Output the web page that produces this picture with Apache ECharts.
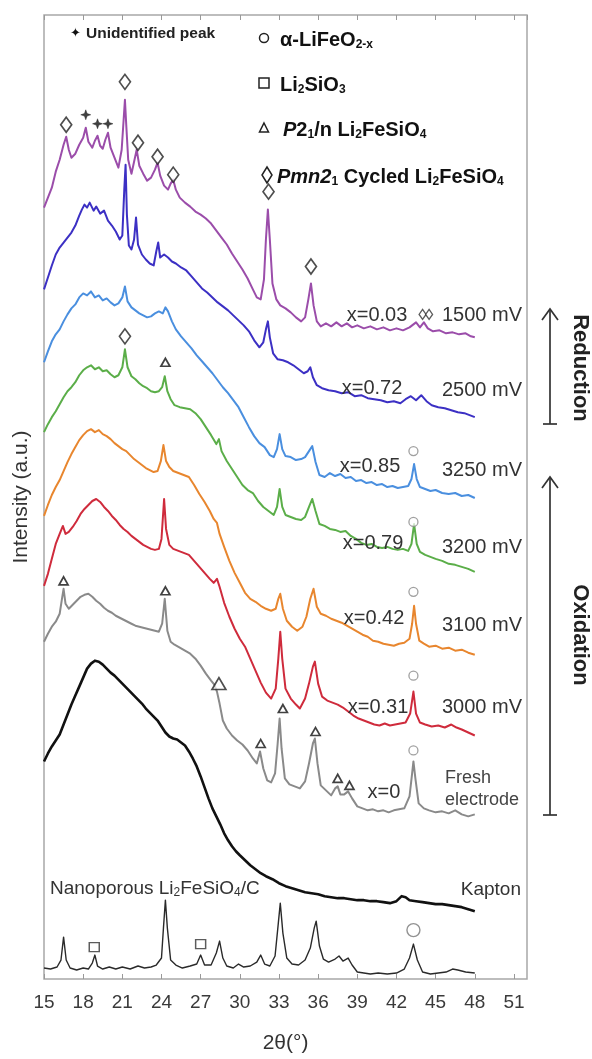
<!DOCTYPE html>
<html><head><meta charset="utf-8">
<script src="https://cdn.jsdelivr.net/npm/echarts@6/dist/echarts.min.js"></script>
<style>html,body{margin:0;padding:0;background:#fff}#c{width:592px;height:1059px}</style>
</head><body><div id="c"></div>
<script>
// 2θ (deg) vs intensity (a.u., stacked with offsets as in the figure)
const p1500 = [[15.0,773],[15.3,783],[15.6,793],[15.9,809],[16.2,821],[16.5,836],[16.7,844],[16.9,831],[17.1,823],[17.4,827],[17.7,836],[18.0,843],[18.2,853],[18.4,839],[18.7,833],[18.9,840],[19.1,845],[19.3,835],[19.5,832],[19.7,841],[19.9,848],[20.1,833],[20.4,823],[20.7,813],[20.95,831],[21.1,861],[21.2,881],[21.3,856],[21.45,821],[21.7,807],[21.9,819],[22.1,831],[22.3,815],[22.6,807],[22.9,800],[23.2,803],[23.5,811],[23.7,818],[23.9,805],[24.2,795],[24.5,791],[24.7,797],[24.9,801],[25.1,791],[25.4,783],[25.8,778],[26.2,774],[26.6,769],[27.0,766],[27.4,762],[27.8,757],[28.2,750],[28.6,743],[29.0,736],[29.4,727],[29.8,719],[30.2,711],[30.6,702],[31.0,691],[31.3,683],[31.6,681],[31.85,701],[32.0,741],[32.15,771],[32.3,741],[32.5,697],[32.8,681],[33.1,675],[33.5,672],[33.9,668],[34.3,663],[34.7,659],[35.0,663],[35.25,681],[35.45,697],[35.65,675],[35.9,659],[36.2,654],[36.6,657],[37.0,654],[37.4,658],[37.8,654],[38.2,657],[38.6,653],[39.0,655],[39.5,652],[40.0,654],[40.5,651],[41.0,653],[41.5,650],[42.0,652],[42.5,650],[43.0,653],[43.5,658],[43.8,653],[44.1,658],[44.4,652],[44.8,649],[45.3,650],[45.8,647],[46.3,648],[46.8,646],[47.3,647],[47.7,644],[48.0,643]];
const p2500 = [[15.0,691],[15.3,703],[15.6,715],[15.9,726],[16.2,733],[16.5,738],[16.8,743],[17.1,748],[17.4,755],[17.7,765],[17.9,771],[18.1,776],[18.3,773],[18.5,778],[18.8,770],[19.0,774],[19.3,767],[19.6,770],[19.9,760],[20.2,755],[20.5,749],[20.8,741],[21.0,745],[21.15,791],[21.25,816],[21.35,766],[21.5,735],[21.7,731],[21.9,741],[22.05,763],[22.2,736],[22.5,726],[22.8,721],[23.1,717],[23.4,715],[23.6,729],[23.75,738],[23.9,723],[24.2,726],[24.5,723],[24.8,719],[25.1,717],[25.5,713],[25.9,710],[26.3,704],[26.7,698],[27.1,692],[27.5,688],[27.9,683],[28.3,678],[28.7,674],[29.1,670],[29.5,665],[29.9,660],[30.3,655],[30.7,649],[31.1,640],[31.5,633],[31.8,638],[32.0,651],[32.15,659],[32.3,643],[32.55,627],[32.9,621],[33.3,620],[33.7,618],[34.1,615],[34.5,611],[34.9,607],[35.2,609],[35.4,613],[35.6,603],[35.9,595],[36.3,592],[36.8,590],[37.3,589],[37.8,587],[38.3,588],[38.8,584],[39.3,585],[39.8,582],[40.3,581],[40.8,580],[41.3,578],[41.8,579],[42.3,577],[42.7,581],[43.1,584],[43.5,580],[43.9,585],[44.3,579],[44.7,575],[45.2,573],[45.7,572],[46.2,570],[46.7,568],[47.2,567],[47.6,565],[48.0,563]];
const p3250 = [[15.0,618],[15.3,629],[15.6,639],[15.9,646],[16.2,651],[16.5,659],[16.8,666],[17.1,672],[17.4,676],[17.7,683],[18.0,687],[18.3,685],[18.6,689],[18.9,683],[19.2,685],[19.5,680],[19.8,682],[20.1,678],[20.4,675],[20.7,677],[21.0,683],[21.2,694],[21.4,679],[21.7,673],[22.0,670],[22.3,667],[22.6,665],[22.9,663],[23.2,664],[23.5,667],[23.8,669],[24.1,667],[24.3,673],[24.5,669],[24.8,659],[25.1,651],[25.5,644],[25.9,638],[26.3,632],[26.7,625],[27.1,619],[27.5,613],[27.9,607],[28.3,600],[28.7,593],[29.1,587],[29.5,580],[29.9,573],[30.3,563],[30.7,553],[31.1,544],[31.5,537],[31.9,533],[32.3,525],[32.6,523],[32.85,531],[33.05,546],[33.25,531],[33.5,524],[33.9,523],[34.3,520],[34.7,521],[35.0,523],[35.3,529],[35.55,534],[35.8,518],[36.1,505],[36.5,503],[36.9,507],[37.3,504],[37.7,506],[38.1,502],[38.5,503],[38.9,499],[39.3,500],[39.7,497],[40.1,498],[40.5,495],[40.9,496],[41.3,493],[41.7,494],[42.1,492],[42.5,493],[42.9,494],[43.15,501],[43.35,516],[43.55,501],[43.8,493],[44.2,491],[44.6,489],[45.0,490],[45.5,487],[46.0,486],[46.5,487],[47.0,484],[47.5,485],[48.0,482]];
const p3200 = [[15.0,548],[15.3,556],[15.6,563],[15.9,569],[16.2,576],[16.5,583],[16.8,589],[17.1,593],[17.4,598],[17.7,605],[18.0,610],[18.3,613],[18.6,615],[18.9,611],[19.2,613],[19.5,609],[19.8,610],[20.1,606],[20.4,603],[20.7,605],[21.0,613],[21.2,631],[21.4,613],[21.7,604],[22.0,601],[22.3,597],[22.6,594],[22.9,592],[23.2,589],[23.5,588],[23.8,589],[24.05,593],[24.25,604],[24.45,589],[24.7,581],[25.0,575],[25.4,573],[25.8,572],[26.2,571],[26.6,567],[27.0,561],[27.4,553],[27.8,545],[28.2,536],[28.4,541],[28.6,529],[29.0,519],[29.4,511],[29.8,503],[30.2,495],[30.6,490],[31.0,487],[31.4,479],[31.8,473],[32.2,469],[32.6,465],[32.85,473],[33.05,491],[33.25,473],[33.5,465],[33.9,463],[34.3,461],[34.7,460],[35.0,463],[35.3,473],[35.55,481],[35.8,469],[36.1,456],[36.5,454],[36.9,451],[37.3,450],[37.7,448],[38.1,449],[38.5,444],[38.9,441],[39.3,437],[39.7,435],[40.1,436],[40.5,433],[40.9,432],[41.3,433],[41.7,431],[42.1,430],[42.5,431],[42.9,429],[43.15,436],[43.35,456],[43.55,436],[43.8,428],[44.2,425],[44.6,423],[45.0,421],[45.5,419],[46.0,416],[46.5,415],[47.0,413],[47.5,411],[48.0,408]];
const p3100 = [[15.0,464],[15.3,475],[15.6,485],[15.9,493],[16.2,500],[16.5,509],[16.8,518],[17.1,526],[17.4,533],[17.7,540],[18.0,545],[18.3,549],[18.6,551],[18.9,548],[19.2,550],[19.5,546],[19.8,544],[20.1,541],[20.4,537],[20.7,534],[21.0,531],[21.3,529],[21.6,525],[21.9,521],[22.2,518],[22.5,515],[22.8,512],[23.1,510],[23.4,508],[23.7,509],[23.95,519],[24.15,535],[24.35,519],[24.6,513],[24.9,509],[25.3,507],[25.7,505],[26.1,503],[26.5,495],[26.9,486],[27.3,478],[27.7,469],[28.0,461],[28.25,457],[28.45,446],[28.8,433],[29.2,419],[29.6,407],[30.0,397],[30.4,387],[30.8,381],[31.2,378],[31.6,374],[32.0,371],[32.4,369],[32.75,371],[32.95,381],[33.1,386],[33.3,371],[33.6,359],[34.0,353],[34.4,349],[34.8,353],[35.1,363],[35.4,381],[35.65,391],[35.9,373],[36.2,366],[36.6,364],[37.0,361],[37.4,359],[37.8,357],[38.2,354],[38.6,351],[39.0,348],[39.4,345],[39.8,343],[40.2,339],[40.6,338],[41.0,336],[41.4,335],[41.8,334],[42.2,336],[42.6,337],[43.0,341],[43.2,356],[43.35,374],[43.5,356],[43.75,339],[44.1,336],[44.5,333],[45.0,334],[45.5,331],[46.0,332],[46.5,329],[47.0,330],[47.5,327],[48.0,325]];
const p3000 = [[15.0,394],[15.3,406],[15.6,421],[15.9,436],[16.2,446],[16.45,454],[16.65,446],[16.9,448],[17.2,453],[17.5,459],[17.8,466],[18.1,471],[18.4,475],[18.7,479],[19.0,481],[19.3,478],[19.6,473],[19.9,469],[20.2,464],[20.5,460],[20.8,455],[21.1,451],[21.4,448],[21.7,444],[22.0,441],[22.3,438],[22.6,435],[22.9,433],[23.2,431],[23.5,430],[23.8,431],[24.0,441],[24.2,481],[24.35,451],[24.6,435],[24.9,431],[25.3,429],[25.7,427],[26.1,425],[26.5,419],[26.9,413],[27.3,407],[27.7,401],[28.0,397],[28.25,401],[28.45,393],[28.8,377],[29.2,363],[29.6,351],[30.0,341],[30.4,333],[30.8,321],[31.2,309],[31.6,297],[32.0,287],[32.4,281],[32.75,291],[32.95,321],[33.1,348],[33.25,321],[33.5,291],[33.9,281],[34.3,275],[34.6,271],[35.0,281],[35.3,296],[35.6,313],[35.75,318],[36.0,296],[36.3,283],[36.7,279],[37.1,277],[37.5,275],[37.9,272],[38.3,268],[38.7,264],[39.1,261],[39.5,259],[39.9,257],[40.3,255],[40.7,254],[41.1,256],[41.5,254],[41.9,255],[42.3,256],[42.7,257],[43.05,266],[43.3,288],[43.5,266],[43.8,257],[44.2,255],[44.7,253],[45.2,254],[45.7,252],[46.2,255],[46.6,252],[47.0,250],[47.5,247],[48.0,244]];
const pFresh = [[15.0,338],[15.3,346],[15.6,353],[15.9,358],[16.2,366],[16.4,383],[16.5,391],[16.65,376],[16.9,371],[17.2,375],[17.5,379],[17.8,383],[18.1,385],[18.4,386],[18.7,383],[19.0,379],[19.3,376],[19.6,372],[19.9,369],[20.2,367],[20.5,364],[20.8,362],[21.1,360],[21.4,358],[21.7,356],[22.0,354],[22.3,353],[22.6,352],[22.9,351],[23.2,350],[23.5,349],[23.8,348],[24.05,356],[24.25,381],[24.45,349],[24.7,338],[25.0,335],[25.4,332],[25.8,329],[26.2,326],[26.6,321],[27.0,314],[27.4,306],[27.8,299],[28.05,295],[28.25,288],[28.45,276],[28.7,259],[29.0,251],[29.4,244],[29.8,239],[30.2,235],[30.6,229],[31.0,221],[31.3,216],[31.55,228],[31.8,211],[32.1,199],[32.4,197],[32.7,206],[32.9,236],[33.05,261],[33.2,231],[33.45,201],[33.8,195],[34.2,193],[34.6,191],[35.0,198],[35.3,216],[35.6,236],[35.75,241],[35.95,216],[36.2,194],[36.6,189],[37.0,184],[37.3,191],[37.5,193],[37.7,185],[38.0,185],[38.3,188],[38.6,181],[39.0,173],[39.4,171],[39.8,169],[40.2,170],[40.6,168],[41.0,169],[41.4,167],[41.8,169],[42.2,170],[42.6,171],[43.0,183],[43.2,206],[43.3,218],[43.45,201],[43.7,176],[44.1,171],[44.5,169],[45.0,167],[45.5,168],[46.0,166],[46.5,169],[47.0,165],[47.5,163],[48.0,165]];
const pKapton = [[15.0,218],[15.3,226],[15.6,233],[15.9,239],[16.2,245],[16.5,255],[16.8,265],[17.1,275],[17.4,284],[17.7,293],[18.0,302],[18.3,311],[18.6,316],[18.9,319],[19.2,318],[19.5,315],[19.8,311],[20.1,307],[20.4,304],[20.7,300],[21.0,296],[21.3,292],[21.6,288],[21.9,284],[22.2,280],[22.5,276],[22.8,271],[23.1,267],[23.4,263],[23.7,259],[24.0,253],[24.3,247],[24.6,243],[24.9,241],[25.2,240],[25.5,237],[25.8,234],[26.1,228],[26.4,221],[26.7,213],[27.0,203],[27.3,192],[27.6,181],[27.9,171],[28.2,163],[28.5,155],[28.8,146],[29.1,139],[29.4,133],[29.7,128],[30.0,124],[30.4,119],[30.8,114],[31.2,110],[31.6,106],[32.0,103],[32.5,100],[33.0,96],[33.5,93],[34.0,91],[34.5,89],[35.0,87],[35.5,86],[36.0,85],[36.5,83],[37.0,82],[37.5,81],[38.0,81],[38.5,80],[39.0,79],[39.5,79],[40.0,78],[40.5,78],[41.0,77],[41.5,76],[42.0,78],[42.4,83],[42.7,82],[43.0,79],[43.5,78],[44.0,77],[44.5,76],[45.0,75],[45.5,75],[46.0,74],[46.5,73],[47.0,72],[47.5,70],[48.0,68]];
const pNano = [[15.0,11],[15.5,10],[16.0,12],[16.3,19],[16.5,42],[16.7,19],[17.0,11],[17.5,9],[18.0,11],[18.4,10],[18.7,16],[18.9,24],[19.1,13],[19.5,10],[20.0,12],[20.5,10],[21.0,12],[21.6,10],[22.2,13],[22.7,11],[23.2,12],[23.6,14],[24.0,21],[24.15,51],[24.3,79],[24.45,51],[24.7,19],[25.1,14],[25.6,11],[26.2,13],[26.7,15],[27.0,24],[27.3,14],[27.8,14],[28.2,26],[28.45,38],[28.7,21],[29.0,13],[29.5,11],[29.9,15],[30.3,12],[30.8,13],[31.3,17],[31.6,24],[31.9,15],[32.3,13],[32.7,23],[32.95,56],[33.1,76],[33.3,46],[33.6,21],[34.0,15],[34.5,14],[35.0,19],[35.4,31],[35.7,51],[35.85,58],[36.1,33],[36.4,20],[36.8,17],[37.3,20],[37.6,23],[37.9,18],[38.3,21],[38.6,14],[39.0,7],[39.5,6],[40.0,5],[40.6,6],[41.3,5],[42.0,6],[42.6,10],[43.0,21],[43.3,35],[43.6,19],[44.0,7],[44.6,5],[45.2,6],[45.8,7],[46.3,10],[46.7,9],[47.3,7],[48.0,6]];

// peak markers [2θ, intensity]
const diamondPts = [[16.7,856],[21.2,899],[22.2,838],[23.7,824],[24.9,806],[32.2,789],[35.45,714],[21.2,644]];
const smallDiamondPts = [[44.0,666],[44.5,666]];
const plusPts = [[18.2,866],[19.1,857],[19.9,857]];
const trianglePts = [[24.3,618],[16.5,399],[24.3,389],[31.6,236],[33.3,271],[35.8,248],[37.5,201],[38.4,194]];
const bigTrianglePts = [[28.4,296]];
const circlePts = [[43.3,529],[43.3,458],[43.3,388],[43.3,304],[43.3,229]];
const bigCirclePts = [[43.3,49]];
const squarePts = [[18.85,32],[27.0,35]];

const xTicks = {min: 15, max: 52, interval: 3};
const traces = [
  {name: 'Nanoporous Li2FeSiO4/C', data: pNano, color: '#2a2a2a', w: 1.4},
  {name: 'Kapton', data: pKapton, color: '#111111', w: 2.6},
  {name: 'Fresh electrode', data: pFresh, color: '#8a8a8a', w: 2.0},
  {name: '3000 mV', data: p3000, color: '#cf2b3c', w: 2.0},
  {name: '3100 mV', data: p3100, color: '#e8862e', w: 2.0},
  {name: '3200 mV', data: p3200, color: '#5bae49', w: 2.0},
  {name: '3250 mV', data: p3250, color: '#4a8fdf', w: 2.0},
  {name: '2500 mV', data: p2500, color: '#3c30c4', w: 2.0},
  {name: '1500 mV', data: p1500, color: '#9b4daa', w: 2.0}
];

const FF = '"Liberation Sans", Arial, sans-serif';
const chart = echarts.init(document.getElementById('c'));

const series = traces.map(t => ({
  type: 'line', name: t.name, data: t.data, showSymbol: false, silent: true,
  lineStyle: {color: t.color, width: t.w, join: 'round'}, z: 2
}));
function marks(data, symbol, size, border, bw, fill) {
  return {type: 'scatter', data: data, symbol: symbol, symbolSize: size, silent: true, z: 5,
    itemStyle: {color: fill || 'rgba(255,255,255,0.9)', borderColor: border, borderWidth: bw}};
}
series.push(marks(diamondPts, 'diamond', [11, 15], '#222', 1.7));
series.push(marks(smallDiamondPts, 'diamond', [7, 10], '#333', 1.3));
series.push(marks(trianglePts, 'triangle', [9, 8], '#111', 1.7));
series.push(marks(bigTrianglePts, 'triangle', [14, 12], '#222', 1.6));
series.push(marks(circlePts, 'circle', 9, '#888', 1.3));
series.push(marks(bigCirclePts, 'circle', 13, '#777', 1.4));
series.push(marks(squarePts, 'rect', [10, 9], '#333', 1.4));
series.push(marks(plusPts, 'path://M5,0 L6.3,3.7 L10,5 L6.3,6.3 L5,10 L3.7,6.3 L0,5 L3.7,3.7 Z', 10, '#111', 0.5, '#111'));

function T(x, y, text, opt) {
  return Object.assign({type: 'text', x: x, y: y, silent: true, z: 10,
    style: Object.assign({text: text, fill: '#333', font: '20px ' + FF, align: 'left', verticalAlign: 'middle'}, opt || {})});
}
function L(x1, y1, x2, y2) {
  return {type: 'line', silent: true, shape: {x1: x1, y1: y1, x2: x2, y2: y2}, style: {stroke: '#333', lineWidth: 1.7}};
}
function PL(pts) {
  return {type: 'polyline', silent: true, shape: {points: pts}, style: {stroke: '#333', lineWidth: 1.7, fill: null}};
}
const boldRich = {
  b: {fontSize: 20, fontWeight: 'bold', fontFamily: FF, fill: '#111', lineHeight: 25, verticalAlign: 'bottom'},
  i: {fontSize: 20, fontWeight: 'bold', fontStyle: 'italic', fontFamily: FF, fill: '#111', lineHeight: 25, verticalAlign: 'bottom'},
  s: {fontSize: 12, fontWeight: 'bold', fontFamily: FF, fill: '#111', lineHeight: 21, verticalAlign: 'bottom'}
};
function RT(x, y, text) {
  return {type: 'text', x: x, y: y, silent: true, z: 10,
    style: {text: text, rich: boldRich, align: 'left', verticalAlign: 'middle', font: 'bold 20px ' + FF, fill: '#111'}};
}

const graphics = [
  // legend block
  T(70, 34, '✦', {font: '13px DejaVu Sans', fill: '#111'}),
  T(86, 34, 'Unidentified peak', {font: 'bold 15.5px ' + FF, fill: '#222'}),
  {type: 'circle', shape: {cx: 264, cy: 38, r: 4.5}, style: {fill: '#fff', stroke: '#222', lineWidth: 1.5}, silent: true},
  RT(280, 38, '{b|α-LiFeO}{s|2-x}'),
  {type: 'rect', shape: {x: 259, y: 78, width: 10, height: 10}, style: {fill: '#fff', stroke: '#222', lineWidth: 1.5}, silent: true},
  RT(280, 83, '{b|Li}{s|2}{b|SiO}{s|3}'),
  {type: 'polygon', shape: {points: [[264, 123], [268.5, 132], [259.5, 132]]}, style: {fill: '#fff', stroke: '#222', lineWidth: 1.5}, silent: true},
  RT(283, 128, '{i|P}{b|2}{s|1}{b|/n Li}{s|2}{b|FeSiO}{s|4}'),
  {type: 'polygon', shape: {points: [[267, 167], [272, 175], [267, 183], [262, 175]]}, style: {fill: '#fff', stroke: '#222', lineWidth: 1.5}, silent: true},
  RT(277, 175, '{i|Pmn2}{s|1}{b| Cycled Li}{s|2}{b|FeSiO}{s|4}'),
  // trace labels
  T(377, 315, 'x=0.03', {align: 'center'}),
  T(372, 388, 'x=0.72', {align: 'center'}),
  T(370, 466, 'x=0.85', {align: 'center'}),
  T(373, 543, 'x=0.79', {align: 'center'}),
  T(374, 618, 'x=0.42', {align: 'center'}),
  T(378, 707, 'x=0.31', {align: 'center'}),
  T(384, 792, 'x=0', {align: 'center'}),
  T(522, 315, '1500 mV', {align: 'right'}),
  T(522, 390, '2500 mV', {align: 'right'}),
  T(522, 470, '3250 mV', {align: 'right'}),
  T(522, 547, '3200 mV', {align: 'right'}),
  T(522, 625, '3100 mV', {align: 'right'}),
  T(522, 707, '3000 mV', {align: 'right'}),
  T(445, 778, 'Fresh', {fill: '#444', font: '18px ' + FF}),
  T(445, 800, 'electrode', {fill: '#444', font: '18px ' + FF}),
  T(521, 890, 'Kapton', {align: 'right', font: '19px ' + FF}),
  {type: 'text', x: 50, y: 889, silent: true, z: 10,
    style: {text: 'Nanoporous Li{s|2}FeSiO{s|4}/C', font: '19px ' + FF, fill: '#333', verticalAlign: 'middle',
      rich: {s: {fontSize: 12, fontFamily: FF, fill: '#333', verticalAlign: 'bottom', lineHeight: 19}}}},
  // arrows
  L(550, 424, 550, 310), PL([[542, 320], [550, 309], [558, 320]]), L(543, 424, 557, 424),
  L(550, 815, 550, 478), PL([[542, 488], [550, 477], [558, 488]]), L(543, 815, 557, 815),
  {type: 'text', x: 580, y: 368, rotation: -Math.PI / 2, silent: true,
    style: {text: 'Reduction', font: 'bold 22px ' + FF, fill: '#222', align: 'center', verticalAlign: 'middle'}},
  {type: 'text', x: 580, y: 635, rotation: -Math.PI / 2, silent: true,
    style: {text: 'Oxidation', font: 'bold 22px ' + FF, fill: '#222', align: 'center', verticalAlign: 'middle'}}
];

chart.setOption({
  animation: false,
  backgroundColor: '#fff',
  grid: {left: 44, right: 65, top: 15, bottom: 78, show: true, borderColor: '#a8a8a8', borderWidth: 1.5, containLabel: false},
  xAxis: [
    {type: 'value', min: xTicks.min, max: xTicks.max, interval: xTicks.interval, position: 'bottom',
      name: '2θ(°)', nameLocation: 'middle', nameGap: 54,
      nameTextStyle: {fontSize: 21, fontFamily: FF, color: '#333'},
      axisLine: {show: false}, splitLine: {show: false},
      axisTick: {show: true, inside: true, length: 5, lineStyle: {color: '#999'}},
      axisLabel: {fontSize: 19, fontFamily: FF, color: '#3a3a3a', margin: 14, showMaxLabel: false}},
    {type: 'value', min: xTicks.min, max: xTicks.max, interval: xTicks.interval, position: 'top',
      axisLine: {show: false}, splitLine: {show: false},
      axisTick: {show: true, inside: true, length: 5, lineStyle: {color: '#999'}},
      axisLabel: {show: false}}
  ],
  yAxis: {type: 'value', min: 0, max: 966, name: 'Intensity (a.u.)', nameLocation: 'middle', nameGap: 12,
    nameTextStyle: {fontSize: 21, fontFamily: FF, color: '#333'},
    axisLine: {show: false}, axisTick: {show: false}, axisLabel: {show: false}, splitLine: {show: false}},
  series: series,
  graphic: graphics
});
</script></body></html>
